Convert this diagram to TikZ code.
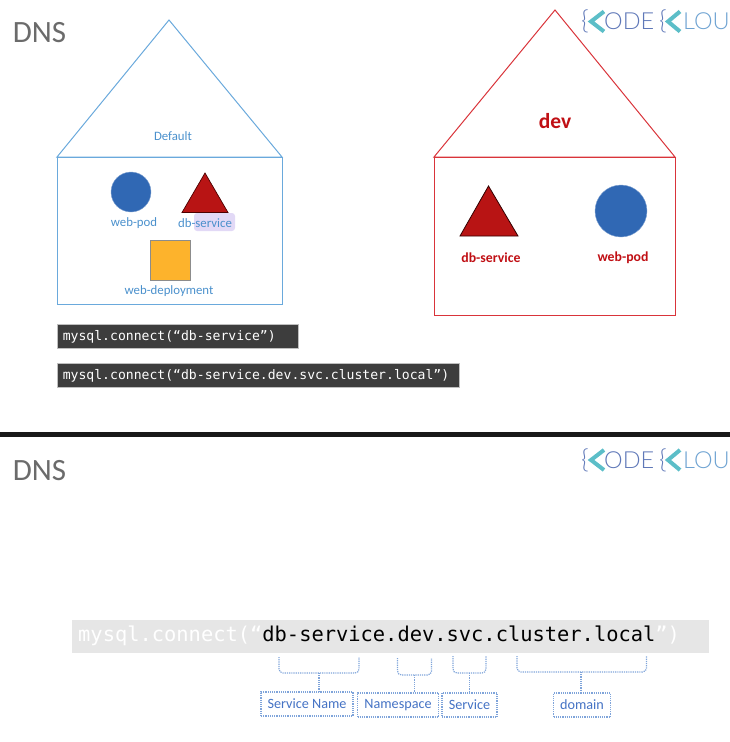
\documentclass[tikz,border=0pt]{standalone}
\usepackage{fontspec}
\setmainfont{Carlito}
\setmonofont{DejaVu Sans Mono}
\newfontfamily\logofont{Lato Light}
\definecolor{defblue}{HTML}{6AA9DC}
\definecolor{lblblue}{HTML}{4A90CC}
\definecolor{devred}{HTML}{D9343A}
\definecolor{redtxt}{HTML}{C00F14}
\definecolor{podblue}{HTML}{3068B4}
\definecolor{svcred}{HTML}{B81414}
\definecolor{depyellow}{HTML}{FDB32C}
\definecolor{codegray}{HTML}{3D3D3D}
\definecolor{stripgray}{HTML}{E6E6E6}
\definecolor{dotblue}{HTML}{7FA4DA}
\definecolor{boxtxt}{HTML}{4472C4}
\definecolor{logoteal}{HTML}{5CBEC8}
\definecolor{logoblue}{HTML}{5F78B8}
\definecolor{logolight}{HTML}{6FA3D2}
\begin{document}
\begin{tikzpicture}[
	x=1pt, y=-1pt,
	title/.style={font=\fontsize{31}{34}\selectfont, text=black!58},
	lbl/.style={font=\fontsize{12.8}{14}\selectfont, text=lblblue, inner sep=0pt},
	devlbl/.style={font=\fontsize{13.8}{15}\selectfont\bfseries, text=redtxt, inner sep=0pt},
	house/.style={line width=1pt},
	pod/.style={circle, fill=podblue, draw=podblue!60, inner sep=0pt},
	code/.style={fill=codegray, draw=black!25, line width=0.6pt, text=white, font=\fontsize{13.1}{15}\selectfont\ttfamily, anchor=west, inner xsep=6pt, inner ysep=0pt, minimum height=24pt, align=left, text height=9pt, text depth=1pt},
	brk/.style={dash pattern=on 1.2pt off 1pt, dotblue, line width=1.2pt, rounded corners=4pt},
	part/.style={draw=dotblue, dash pattern=on 1.2pt off 1pt, line width=1.2pt, text=boxtxt, font=\fontsize{14.2}{15}\selectfont, inner sep=0pt, minimum height=24pt},
	logow/.style={font=\fontsize{23.5}{26}\selectfont\logofont, inner sep=0pt, anchor=west},
	logob/.style={font=\fontsize{26}{26}\selectfont\logofont, inner sep=0pt, anchor=west, text=logoblue},
	logok/.style={logoteal, line width=4pt, line join=miter},
	]
	\useasboundingbox (0,0) rectangle (730,742);
	
	\node[title] (dnsa) at (39.5,33) {DNS};
	\node[title] (dnsb) at (39.5,471) {DNS};
	\fill[black!90] (0,431.5) rectangle (730,437);
	
	% default house
	\draw[house, defblue] (57,157) -- (169,20) -- (282,157) -- cycle;
	\draw[house, defblue] (57,157) rectangle (282,304);
	\node[lbl] (deflbl) at (173,136) {Default};
	\fill[rounded corners=3pt, blue!50!violet!15] (194,213) rectangle (235,231);
	\node[pod, minimum size=40pt] (podb) at (131,192) {};
	\draw[fill=svcred, draw=black!70!red, line width=0.7pt] (205,173) -- (228,212.5) -- (182,212.5) -- cycle;
	\node[draw=black!45, line width=0.9pt, fill=depyellow, minimum size=40pt, inner sep=0pt] (depl) at (170.5,260) {};
	\node[lbl] (podlbl) at (134,223) {web-pod};
	\node[lbl] (svclbl) at (205,223) {db-service};
	\node[lbl] (deplbl) at (169,291.5) {web-deployment};
	
	% dev house
	\draw[house, devred] (434,157) -- (555,10) -- (675,157) -- cycle;
	\draw[house, devred] (434,157) rectangle (675,315);
	\node[font=\fontsize{21.5}{23}\selectfont\bfseries, text=redtxt, inner sep=0pt] (devttl) at (555,121) {dev};
	\draw[fill=svcred, draw=black!80!red, line width=0.8pt] (488.5,186) -- (518,236) -- (460,236) -- cycle;
	\node[pod, minimum size=52pt] (podr) at (621,211) {};
	\node[devlbl] (svcr) at (491,257.5) {db-service};
	\node[devlbl] (podrlbl) at (623,257.5) {web-pod};
	
	% code lines
	\node[code, text width=229pt] (conna) at (56.5,336) {mysql.connect(“db-service”)};
	\node[code, text width=390pt] (connb) at (56.5,375) {mysql.connect(“db-service.dev.svc.cluster.local”)};
	
	% address split up
	\fill[stripgray] (72,620) rectangle (709,653);
	\node[anchor=west, inner sep=0pt, font=\fontsize{20.4}{24}\selectfont\ttfamily] (full) at (78,636) {\textcolor{white}{mysql.connect(“}\textcolor{black}{db-service.dev.svc.cluster.local}\textcolor{white}{”)}};
	
	\node[part, minimum width=92pt] (svcname) at (307,704) {Service Name};
	\node[part, minimum width=81pt] (nspace) at (398,705) {Namespace};
	\node[part, minimum width=55pt] (svcbox) at (469.5,705) {Service};
	\node[part, minimum width=57pt] (domain) at (582,705) {domain};
	
	\coordinate (sna) at (279,657);
	\coordinate (snb) at (359,657);
	\coordinate (snm) at (319,673);
	\coordinate (nsa) at (397.5,658);
	\coordinate (nsb) at (431.5,658);
	\coordinate (nsm) at (414.5,675);
	\coordinate (sva) at (453,656);
	\coordinate (svb) at (486,656);
	\coordinate (svm) at (469.5,673);
	\coordinate (doa) at (517,656);
	\coordinate (dob) at (646.5,656);
	\coordinate (dom) at (581,672);
	
	\draw[brk] (sna) |- (snm) -| (snb);
	\draw[brk] (nsa) |- (nsm) -| (nsb);
	\draw[brk] (sva) |- (svm) -| (svb);
	\draw[brk] (doa) |- (dom) -| (dob);
	\draw[brk] (snm) -- (snm |- svcname.north);
	\draw[brk] (nsm) -- (nsm |- nspace.north);
	\draw[brk] (svm) -- (svm |- svcbox.north);
	\draw[brk] (dom) -- (dom |- domain.north);
	
	% logos
	\foreach \ly/\nm in {21.5/a, 460/b} {
		\node[logob] (brace1\nm) at (581,\ly) {\{};
		\draw[logok] (604,\ly-10) -- (591,\ly) -- (604,\ly+10);
		\node[logow, text=logoblue] (word1\nm) at (604,\ly) {ODE};
		\node[logob] (brace2\nm) at (659,\ly) {\{};
		\draw[logok] (680,\ly-10) -- (668,\ly) -- (680,\ly+10);
		\node[logow, text=logolight] (word2\nm) at (683,\ly) {LOU};
	}
	
\end{tikzpicture}
\end{document}
